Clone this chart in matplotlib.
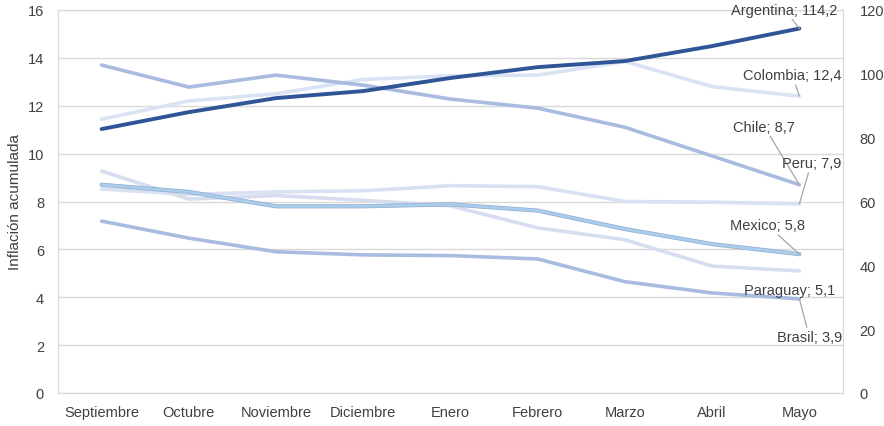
import matplotlib
matplotlib.use("Agg")
import matplotlib.pyplot as plt

plt.rcParams['font.family'] = ['Liberation Sans', 'DejaVu Sans']

meses = ["Septiembre", "Octubre", "Noviembre", "Diciembre", "Enero", "Febrero", "Marzo", "Abril", "Mayo"]
argentina = [82.7, 88.0, 92.4, 94.6, 98.7, 102.1, 104.0, 108.7, 114.2]
colombia = [11.44, 12.2, 12.5, 13.1, 13.25, 13.28, 13.85, 12.8, 12.4]
chile = [13.7, 12.78, 13.28, 12.86, 12.28, 11.9, 11.1, 9.9, 8.7]
peru = [8.52, 8.3, 8.4, 8.45, 8.66, 8.62, 8.0, 7.97, 7.9]
mexico = [8.7, 8.4, 7.8, 7.8, 7.88, 7.62, 6.85, 6.22, 5.8]
paraguay = [9.27, 8.1, 8.25, 8.05, 7.82, 6.9, 6.4, 5.3, 5.1]
brasil = [7.18, 6.47, 5.9, 5.77, 5.74, 5.6, 4.65, 4.18, 3.93]

left_ticks = [0, 2, 4, 6, 8, 10, 12, 14, 16]
right_ticks = [0, 20, 40, 60, 80, 100, 120]

fig = plt.figure(figsize=(8.84, 4.27), dpi=100)
ax = fig.add_axes([58/884, 1-394/427, (843-58)/884, (394-11)/427])
ax2 = ax.twinx()

x = list(range(len(meses)))
lw = 2.6
ax.plot(x, colombia, color="#DAE3F3", lw=lw, solid_capstyle="round", zorder=3)
ax.plot(x, peru, color="#D9E1F2", lw=lw, solid_capstyle="round", zorder=3)
ax.plot(x, paraguay, color="#D6DDEE", lw=lw, solid_capstyle="round", zorder=3)
ax.plot(x, chile, color="#A9BBE0", lw=lw, solid_capstyle="round", zorder=4)
ax.plot(x, brasil, color="#A9BBE0", lw=lw, solid_capstyle="round", zorder=4)
ax.plot(x, mexico, color="#93AACB", lw=lw + 0.4, solid_capstyle="round", zorder=4)
ax.plot(x, mexico, color="#A8CCEB", lw=lw - 0.5, solid_capstyle="round", zorder=4)
ax2.plot(x, argentina, color="#2F5597", lw=2.8, solid_capstyle="round", zorder=5)

ax.set_xlim(-0.5, len(meses) - 0.5)
ax.set_ylim(0, 16)
ax2.set_ylim(0, 120)
ax.set_yticks(left_ticks)
ax2.set_yticks(right_ticks)
ax.set_xticks(x)
ax.set_xticklabels(meses)
ax.grid(axis="y", color="#D9D9D9", lw=1)
ax.set_axisbelow(True)
for a in (ax, ax2):
    for s in a.spines.values():
        s.set_color("#D9D9D9")
    a.tick_params(length=0, labelsize=10.5, colors="#404040")
ax.tick_params(axis="x", pad=9)
ax.tick_params(axis="y", pad=10)
ax2.tick_params(axis="y", pad=12)
ax.set_ylabel("Inflación acumulada", fontsize=11, color="#404040", labelpad=4)

ann = dict(fontsize=10.5, color="#404040", ha="center", va="center",
           textcoords="offset pixels", zorder=10)
arrow = dict(arrowstyle="-", color="#A6A6A6", lw=0.9, shrinkA=0, shrinkB=0)
last = len(meses) - 1
ax2.annotate("Argentina; 114,2", xy=(last, argentina[-1]), xytext=(-15, 19), arrowprops=arrow, **ann)
ax.annotate("Colombia; 12,4", xy=(last, colombia[-1]), xytext=(-7, 21), arrowprops=arrow, **ann)
ax.annotate("Chile; 8,7", xy=(last, chile[-1]), xytext=(-35, 58), arrowprops=arrow, **ann)
ax.annotate("Peru; 7,9", xy=(last, peru[-1]), xytext=(12, 41), arrowprops=arrow, **ann)
ax.annotate("Mexico; 5,8", xy=(last, mexico[-1]), xytext=(-32, 29), arrowprops=arrow, **ann)
ax.annotate("Paraguay; 5,1", xy=(last, paraguay[-1]), xytext=(-10, -19), **ann)
ax.annotate("Brasil; 3,9", xy=(last, brasil[-1]), xytext=(10, -38), arrowprops=arrow, **ann)

fig.savefig("out.png", dpi=100)
